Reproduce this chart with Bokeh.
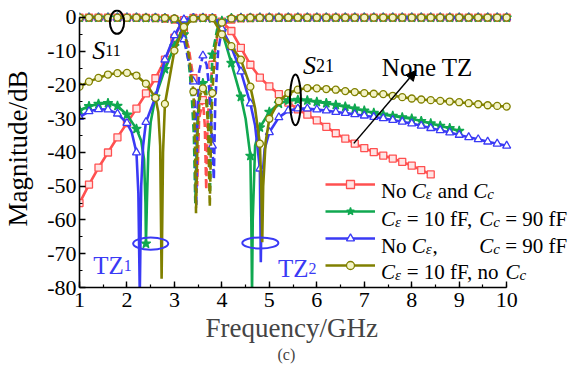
import numpy as np
from bokeh.plotting import figure
from bokeh.models import (Range1d, SingleIntervalTicker, Legend, LegendItem, Label,
                          Arrow, NormalHead, Title, CustomJSTickFormatter)
from bokeh.core.properties import value
from bokeh.embed import file_html
from bokeh.resources import INLINE

FONT = "Liberation Serif"

# ---------------- data (frequency GHz, magnitude dB) ----------------
red_s21 = [(1.0,-55.0),(1.2,-49.5),(1.4,-44.5),(1.6,-40.0),(1.8,-35.5),(2.0,-31.3),(2.2,-27.0),
           (2.4,-22.5),(2.6,-18.0),(2.8,-12.5),(3.0,-6.0),(3.1,-2.8),(3.2,-0.8),(3.4,-0.15),
           (3.6,-0.1),(3.8,-0.2),(4.0,-1.2),(4.2,-4.0),(4.4,-9.0),(4.6,-14.0),(4.8,-17.8),
           (5.0,-20.4),(5.2,-22.7),(5.4,-25.2),(5.6,-27.2),(5.8,-28.8),(6.0,-30.5),(6.2,-32.4),
           (6.4,-34.3),(6.6,-35.9),(6.8,-37.4),(7.0,-38.7),(7.2,-39.9),(7.4,-40.9),(7.6,-41.8),
           (7.8,-42.8),(8.0,-43.9),(8.2,-45.2),(8.4,-46.5),(8.45,-46.8)]
green_s21 = [(1.0,-27.5),(1.2,-26.3),(1.4,-25.6),(1.6,-25.4),(1.8,-26.2),(2.0,-28.8),(2.2,-33.0),
             (2.3,-36.5),(2.36,-42.0),(2.39,-55.0),(2.4,-67.0),(2.42,-55.0),(2.45,-40.0),(2.5,-31.0),
             (2.6,-23.5),(2.8,-15.3),(3.0,-8.5),(3.2,-2.5),(3.3,-0.8),(3.4,-0.2),(3.6,-0.1),
             (3.8,-0.3),(3.9,-1.5),(4.0,-4.0),(4.2,-13.5),(4.4,-23.5),(4.5,-30.0),(4.6,-41.0),
             (4.62,-60.0),(4.635,-82.0),(4.65,-60.0),(4.7,-38.0),(4.8,-32.6),(5.0,-28.0),
             (5.2,-25.5),(5.4,-24.6),(5.6,-24.4),(5.8,-24.6),(6.0,-25.0),(6.2,-25.4),(6.4,-25.9),
             (6.6,-26.4),(6.8,-27.0),(7.0,-27.6),(7.2,-28.3),(7.4,-28.8),(7.6,-29.2),(7.8,-29.6),
             (8.0,-30.0),(8.2,-30.7),(8.4,-31.4),(8.6,-32.1),(8.8,-32.8),(9.0,-33.6)]
blue_s21 = [(1.0,-29.5),(1.2,-27.8),(1.4,-27.2),(1.6,-27.3),(1.8,-28.5),(2.0,-31.3),(2.1,-34.0),
            (2.2,-40.0),(2.24,-52.0),(2.27,-82.0),(2.3,-50.0),(2.34,-38.0),(2.4,-31.0),(2.6,-23.6),
            (2.8,-12.5),(3.0,-5.3),(3.2,-0.6),(3.4,-0.1),(3.6,-0.1),(3.8,-0.2),(3.9,-0.8),
            (4.0,-3.3),(4.2,-8.8),(4.4,-16.0),(4.6,-25.5),(4.7,-32.0),(4.8,-44.8),(4.82,-72.5),
            (4.84,-50.0),(4.9,-39.0),(5.0,-34.0),(5.2,-29.6),(5.4,-27.6),(5.6,-27.0),(5.8,-27.0),
            (6.0,-27.3),(6.2,-27.6),(6.4,-28.0),(6.6,-28.3),(6.8,-28.7),(7.0,-29.1),(7.2,-29.5),
            (7.4,-29.9),(7.6,-30.4),(7.8,-30.9),(8.0,-31.4),(8.2,-32.1),(8.4,-32.8),(8.6,-33.4),
            (8.8,-34.1),(9.0,-34.8),(9.2,-35.5),(9.4,-36.1),(9.6,-36.8),(9.8,-37.4),(10.0,-38.0)]
olive_s21 = [(1.0,-20.5),(1.2,-19.0),(1.4,-17.9),(1.6,-16.9),(1.8,-16.5),(2.0,-16.4),(2.2,-17.2),
             (2.4,-19.6),(2.6,-23.8),(2.66,-28.0),(2.7,-38.0),(2.73,-77.4),(2.76,-40.0),(2.8,-25.6),
             (3.0,-9.8),(3.2,-2.8),(3.4,-0.3),(3.6,-0.1),(3.8,-0.2),(4.0,-5.0),(4.2,-8.5),
             (4.4,-12.5),(4.6,-20.5),(4.7,-27.0),(4.8,-37.4),(4.83,-50.0),(4.85,-66.6),(4.87,-50.0),
             (4.92,-37.0),(5.0,-30.0),(5.2,-24.8),(5.4,-22.4),(5.6,-21.4),(5.8,-20.9),(6.0,-21.0),
             (6.2,-21.2),(6.4,-21.4),(6.6,-21.8),(6.8,-22.1),(7.0,-22.4),(7.2,-22.6),(7.4,-22.7),
             (7.6,-23.2),(7.8,-23.6),(8.0,-24.0),(8.2,-24.3),(8.4,-24.5),(8.6,-24.7),(8.8,-24.9),
             (9.0,-25.1),(9.2,-25.4),(9.4,-25.7),(9.6,-26.0),(9.8,-26.2),(10.0,-26.4)]

red_s11 = [(1.0,-0.02),(1.2,-0.02),(1.4,-0.03),(1.6,-0.03),(1.8,-0.04),(2.0,-0.05),(2.2,-0.07),
           (2.4,-0.1),(2.6,-0.15),(2.8,-0.3),(3.0,-0.6),(3.1,-1.5),(3.2,-4.0),(3.3,-9.0),(3.4,-18.0),
           (3.45,-30.0),(3.48,-50.0),(3.52,-30.0),(3.6,-24.5),(3.64,-32.0),(3.67,-51.0),(3.7,-30.0),
           (3.8,-14.0),(3.9,-6.0),(4.0,-2.5),(4.2,-0.6),(4.4,-0.25),(4.6,-0.15),(4.8,-0.1),
           (5.0,-0.08),(5.2,-0.07),(5.4,-0.07),(5.6,-0.06),(5.8,-0.06),(6.0,-0.05),(6.2,-0.05),
           (6.4,-0.05),(6.6,-0.04),(6.8,-0.04),(7.0,-0.04),(7.2,-0.04),(7.4,-0.03),(7.6,-0.03),
           (7.8,-0.03),(8.0,-0.03),(8.2,-0.03),(8.4,-0.03),(8.6,-0.02),(8.8,-0.02),(9.0,-0.02),
           (9.2,-0.02),(9.4,-0.02),(9.6,-0.02),(9.8,-0.02),(10.0,-0.02)]
green_s11 = [(1.0,-0.03),(1.2,-0.03),(1.4,-0.04),(1.6,-0.04),(1.8,-0.05),(2.0,-0.06),(2.2,-0.08),
             (2.4,-0.1),(2.6,-0.15),(2.8,-0.25),(3.0,-0.5),(3.1,-1.5),(3.2,-5.0),(3.3,-13.0),
             (3.36,-22.0),(3.41,-35.0),(3.44,-55.0),(3.48,-32.0),(3.53,-22.0),(3.6,-19.5),
             (3.67,-22.0),(3.72,-32.0),(3.75,-52.0),(3.78,-20.0),(3.8,-11.0),(3.9,-3.5),(4.0,-1.0),
             (4.2,-0.2),(4.4,-0.12),(4.6,-0.1),(4.8,-0.09),(5.0,-0.08),(5.2,-0.07),(5.4,-0.07),
             (5.6,-0.06),(5.8,-0.06),(6.0,-0.06),(6.2,-0.05),(6.4,-0.05),(6.6,-0.05),(6.8,-0.05),
             (7.0,-0.04),(7.2,-0.04),(7.4,-0.04),(7.6,-0.04),(7.8,-0.04),(8.0,-0.04),(8.2,-0.03),
             (8.4,-0.03),(8.6,-0.03),(8.8,-0.03),(9.0,-0.03),(9.2,-0.03),(9.4,-0.03),(9.6,-0.03),
             (9.8,-0.03),(10.0,-0.03)]
blue_s11 = [(1.0,-0.03),(1.2,-0.03),(1.4,-0.04),(1.6,-0.04),(1.8,-0.05),(2.0,-0.06),(2.2,-0.08),
            (2.4,-0.1),(2.6,-0.15),(2.8,-0.2),(3.0,-0.4),(3.1,-1.8),(3.2,-6.5),(3.3,-13.0),
            (3.4,-19.0),(3.44,-30.0),(3.46,-56.0),(3.48,-30.0),(3.52,-16.0),(3.6,-11.3),
            (3.68,-14.0),(3.74,-22.0),(3.8,-38.0),(3.83,-48.0),(3.86,-25.0),(3.92,-10.0),
            (4.0,-3.5),(4.1,-1.0),(4.2,-0.4),(4.4,-0.15),(4.6,-0.1),(4.8,-0.09),(5.0,-0.08),
            (5.2,-0.07),(5.4,-0.07),(5.6,-0.06),(5.8,-0.06),(6.0,-0.06),(6.2,-0.05),(6.4,-0.05),
            (6.6,-0.05),(6.8,-0.05),(7.0,-0.04),(7.2,-0.04),(7.4,-0.04),(7.6,-0.04),(7.8,-0.04),
            (8.0,-0.04),(8.2,-0.03),(8.4,-0.03),(8.6,-0.03),(8.8,-0.03),(9.0,-0.03),(9.2,-0.03),
            (9.4,-0.03),(9.6,-0.03),(9.8,-0.03),(10.0,-0.03)]
olive_s11 = [(1.0,-0.01),(1.2,-0.01),(1.4,-0.02),(1.6,-0.02),(1.8,-0.03),(2.0,-0.04),(2.2,-0.05),
             (2.4,-0.07),(2.6,-0.1),(2.8,-0.15),(3.0,-0.3),(3.1,-1.0),(3.2,-3.0),(3.3,-11.0),
             (3.4,-22.0),(3.43,-35.0),(3.455,-58.0),(3.49,-32.0),(3.54,-23.0),(3.6,-21.0),
             (3.66,-23.0),(3.71,-32.0),(3.745,-56.0),(3.78,-30.0),(3.8,-22.4),(3.85,-10.0),
             (3.9,-5.0),(4.0,-1.5),(4.2,-0.3),(4.4,-0.1),(4.6,-0.06),(4.8,-0.05),(5.0,-0.04),
             (5.2,-0.04),(5.4,-0.03),(5.6,-0.03),(5.8,-0.03),(6.0,-0.03),(6.2,-0.02),(6.4,-0.02),
             (6.6,-0.02),(6.8,-0.02),(7.0,-0.02),(7.2,-0.02),(7.4,-0.02),(7.6,-0.02),(7.8,-0.02),
             (8.0,-0.01),(8.2,-0.01),(8.4,-0.01),(8.6,-0.01),(8.8,-0.01),(9.0,-0.01),(9.2,-0.01),
             (9.4,-0.01),(9.6,-0.01),(9.8,-0.01),(10.0,-0.01)]

x_ticks_range = (1, 10)
y_ticks_range = (-80, 0)

# annotation positions (data units)
ell_x = [1.79, 5.55, 2.50, 4.81]
ell_y = [-1.4, -24.4, -67.0, -66.8]
ell_w = [0.30, 0.23, 0.74, 0.76]
ell_h = [6.9, 15.0, 3.6, 3.3]
ell_c = ["black", "black", "#3a3af5", "#3a3af5"]
arrow_from = (6.78, -37.3)
arrow_to = (8.09, -15.7)

RED, GREEN, BLUE, OLIVE = "#ff5050", "#10a850", "#3a3af5", "#808000"
series = [
    ("red", red_s21, red_s11, RED, "square", 7, "#ffe4e4"),
    ("green", green_s21, green_s11, GREEN, "star", 10, GREEN),
    ("blue", blue_s21, blue_s11, BLUE, "triangle", 8, "white"),
    ("olive", olive_s21, olive_s11, OLIVE, "circle", 7, "#f4f4c8"),
]

p = figure(width=574, height=375, output_backend="svg", toolbar_location=None, title=None,
           x_range=Range1d(1, 11.429), y_range=Range1d(-80, 2.37),
           min_border_left=78, min_border_right=0, min_border_top=9, min_border_bottom=88)
p.xgrid.visible = False
p.ygrid.visible = False
p.outline_line_color = None
p.background_fill_color = "white"

p.xaxis.ticker = SingleIntervalTicker(interval=1, num_minor_ticks=2)
p.yaxis.ticker = SingleIntervalTicker(interval=10, num_minor_ticks=2)
p.yaxis.formatter = CustomJSTickFormatter(code="return tick.toFixed(0);")
p.xaxis.bounds = x_ticks_range
p.yaxis.bounds = y_ticks_range
for ax in (p.xaxis, p.yaxis):
    ax.major_tick_in = 6
    ax.major_tick_out = 0
    ax.minor_tick_in = 3
    ax.minor_tick_out = 0
    ax.axis_line_width = 1.6
    ax.major_tick_line_width = 1.4
    ax.minor_tick_line_width = 1.2
    ax.axis_line_color = "black"
    ax.major_tick_line_color = "black"
    ax.minor_tick_line_color = "black"
    ax.major_label_text_font = FONT
    ax.major_label_text_font_size = "22px"
    ax.major_label_text_color = "black"
    ax.axis_label_text_font = FONT
    ax.axis_label_text_font_size = "27px"
    ax.axis_label_text_font_style = "normal"
    ax.axis_label_text_color = "black"
p.yaxis.axis_label = "Magnitude/dB"
p.xaxis.major_label_standoff = 5
p.yaxis.major_label_standoff = 3
p.yaxis.axis_label_standoff = 11

def on_grid(f):
    return abs(f * 5 - round(f * 5)) < 1e-6

legend_items = []
for name, s21, s11, col, mk, sz, fill in series:
    for data, dash in ((s11, "8 4"), (s21, "solid")):
        f = [a for a, b in data]
        d = [b for a, b in data]
        ln = p.line(f, d, line_color=col, line_width=2.6, line_dash=dash)
        fm = [a for a, b in data if on_grid(a)]
        dm = [b for a, b in data if on_grid(a)]
        sc = p.scatter(fm, dm, marker=mk, size=sz, line_color=col, fill_color=fill, line_width=1.3)
        if dash == "solid":
            legend_items.append(LegendItem(label=value(" "), renderers=[ln, sc]))

p.ellipse(x=ell_x, y=ell_y, width=ell_w, height=ell_h, fill_color=None,
          line_color=ell_c, line_width=2)

p.add_layout(Arrow(end=NormalHead(size=10, fill_color="black", line_color="black"),
                   x_start=arrow_from[0], y_start=arrow_from[1],
                   x_end=arrow_to[0], y_end=arrow_to[1], line_width=1.5, line_color="black"))

legend = Legend(items=legend_items, location=(246, 12), padding=0, margin=0, spacing=7,
                glyph_width=50, glyph_height=20, label_height=20, label_width=20,
                label_standoff=5, label_text_font_size="10px",
                background_fill_alpha=0.0, border_line_alpha=0)
p.add_layout(legend, "center")

# ---------- rich text helper ----------
W = {'N': .722, 'o': .5, ' ': .25, 'a': .444, 'n': .5, 'd': .5, 'c': .444, '=': .564,
     '1': .5, '0': .5, '9': .5, '2': .5, 'f': .333, 'F': .556, ',': .25, 'T': .611,
     'Z': .611, 'S': .5, 'e': .444, 'C': .667, 'ε': .44}

def tw(t, size):
    return sum(W.get(ch, .5) for ch in t) * size

def rich(x, y, pieces, color="black", start=0.0):
    off = start
    for t, size, style, dy in pieces:
        lead = len(t) - len(t.lstrip())
        txt = t.strip()
        if txt:
            p.add_layout(Label(x=x, y=y, x_offset=off + lead * W[' '] * size, y_offset=dy,
                               text=txt, text_font=FONT, text_font_size=f"{size}px",
                               text_font_style=style, text_color=color,
                               text_baseline="alphabetic", text_align="left"))
        off += tw(t, size)
    return off

L, SB = 21, 15
row_y = [-51.3, -59.6, -67.8, -75.5]
lx = 7.35
rich(lx, row_y[0], [("No ", L, "normal", 0), ("C", L, "italic", 0), ("ε", SB, "italic", -3),
                    (" and ", L, "normal", 0), ("C", L, "italic", 0), ("c", SB, "italic", -3)])
o1 = rich(lx, row_y[1], [("C", L, "italic", 0), ("ε", SB, "italic", -3), (" = 10 fF, ", L, "normal", 0)])
rich(lx, row_y[1], [("C", L, "italic", 0), ("c", SB, "italic", -3), (" = 90 fF", L, "normal", 0)], start=o1)
rich(lx, row_y[2], [("No ", L, "normal", 0), ("C", L, "italic", 0), ("ε", SB, "italic", -3), (",", L, "normal", 0)])
rich(lx, row_y[2], [("C", L, "italic", 0), ("c", SB, "italic", -3), (" = 90 fF", L, "normal", 0)], start=o1)
rich(lx, row_y[3], [("C", L, "italic", 0), ("ε", SB, "italic", -3), (" = 10 fF, no ", L, "normal", 0),
                    ("C", L, "italic", 0), ("c", SB, "italic", -3)])

rich(1.27, -9.8, [("S", 26, "italic", 0), ("11", 16, "normal", 0)])
rich(5.71, -14.2, [("S", 26, "italic", 0), ("21", 18, "normal", 0)])
rich(7.37, -14.8, [("None TZ", 25, "normal", 0)])
rich(1.29, -73.5, [("TZ", 25, "normal", 0), ("1", 16, "normal", 0)], color=BLUE)
rich(5.18, -74.4, [("TZ", 25, "normal", 0), ("2", 16, "normal", 0)], color=BLUE)

p.add_layout(Title(text="Frequency/GHz", align="left", offset=126, text_font=FONT,
                   text_font_size="27px", text_font_style="normal", standoff=2), "below")
p.add_layout(Title(text="(c)", align="left", offset=198, text_font=FONT, text_font_size="16px",
                   text_font_style="normal", standoff=0), "below")

open("out.html", "w").write(file_html(p, INLINE))
